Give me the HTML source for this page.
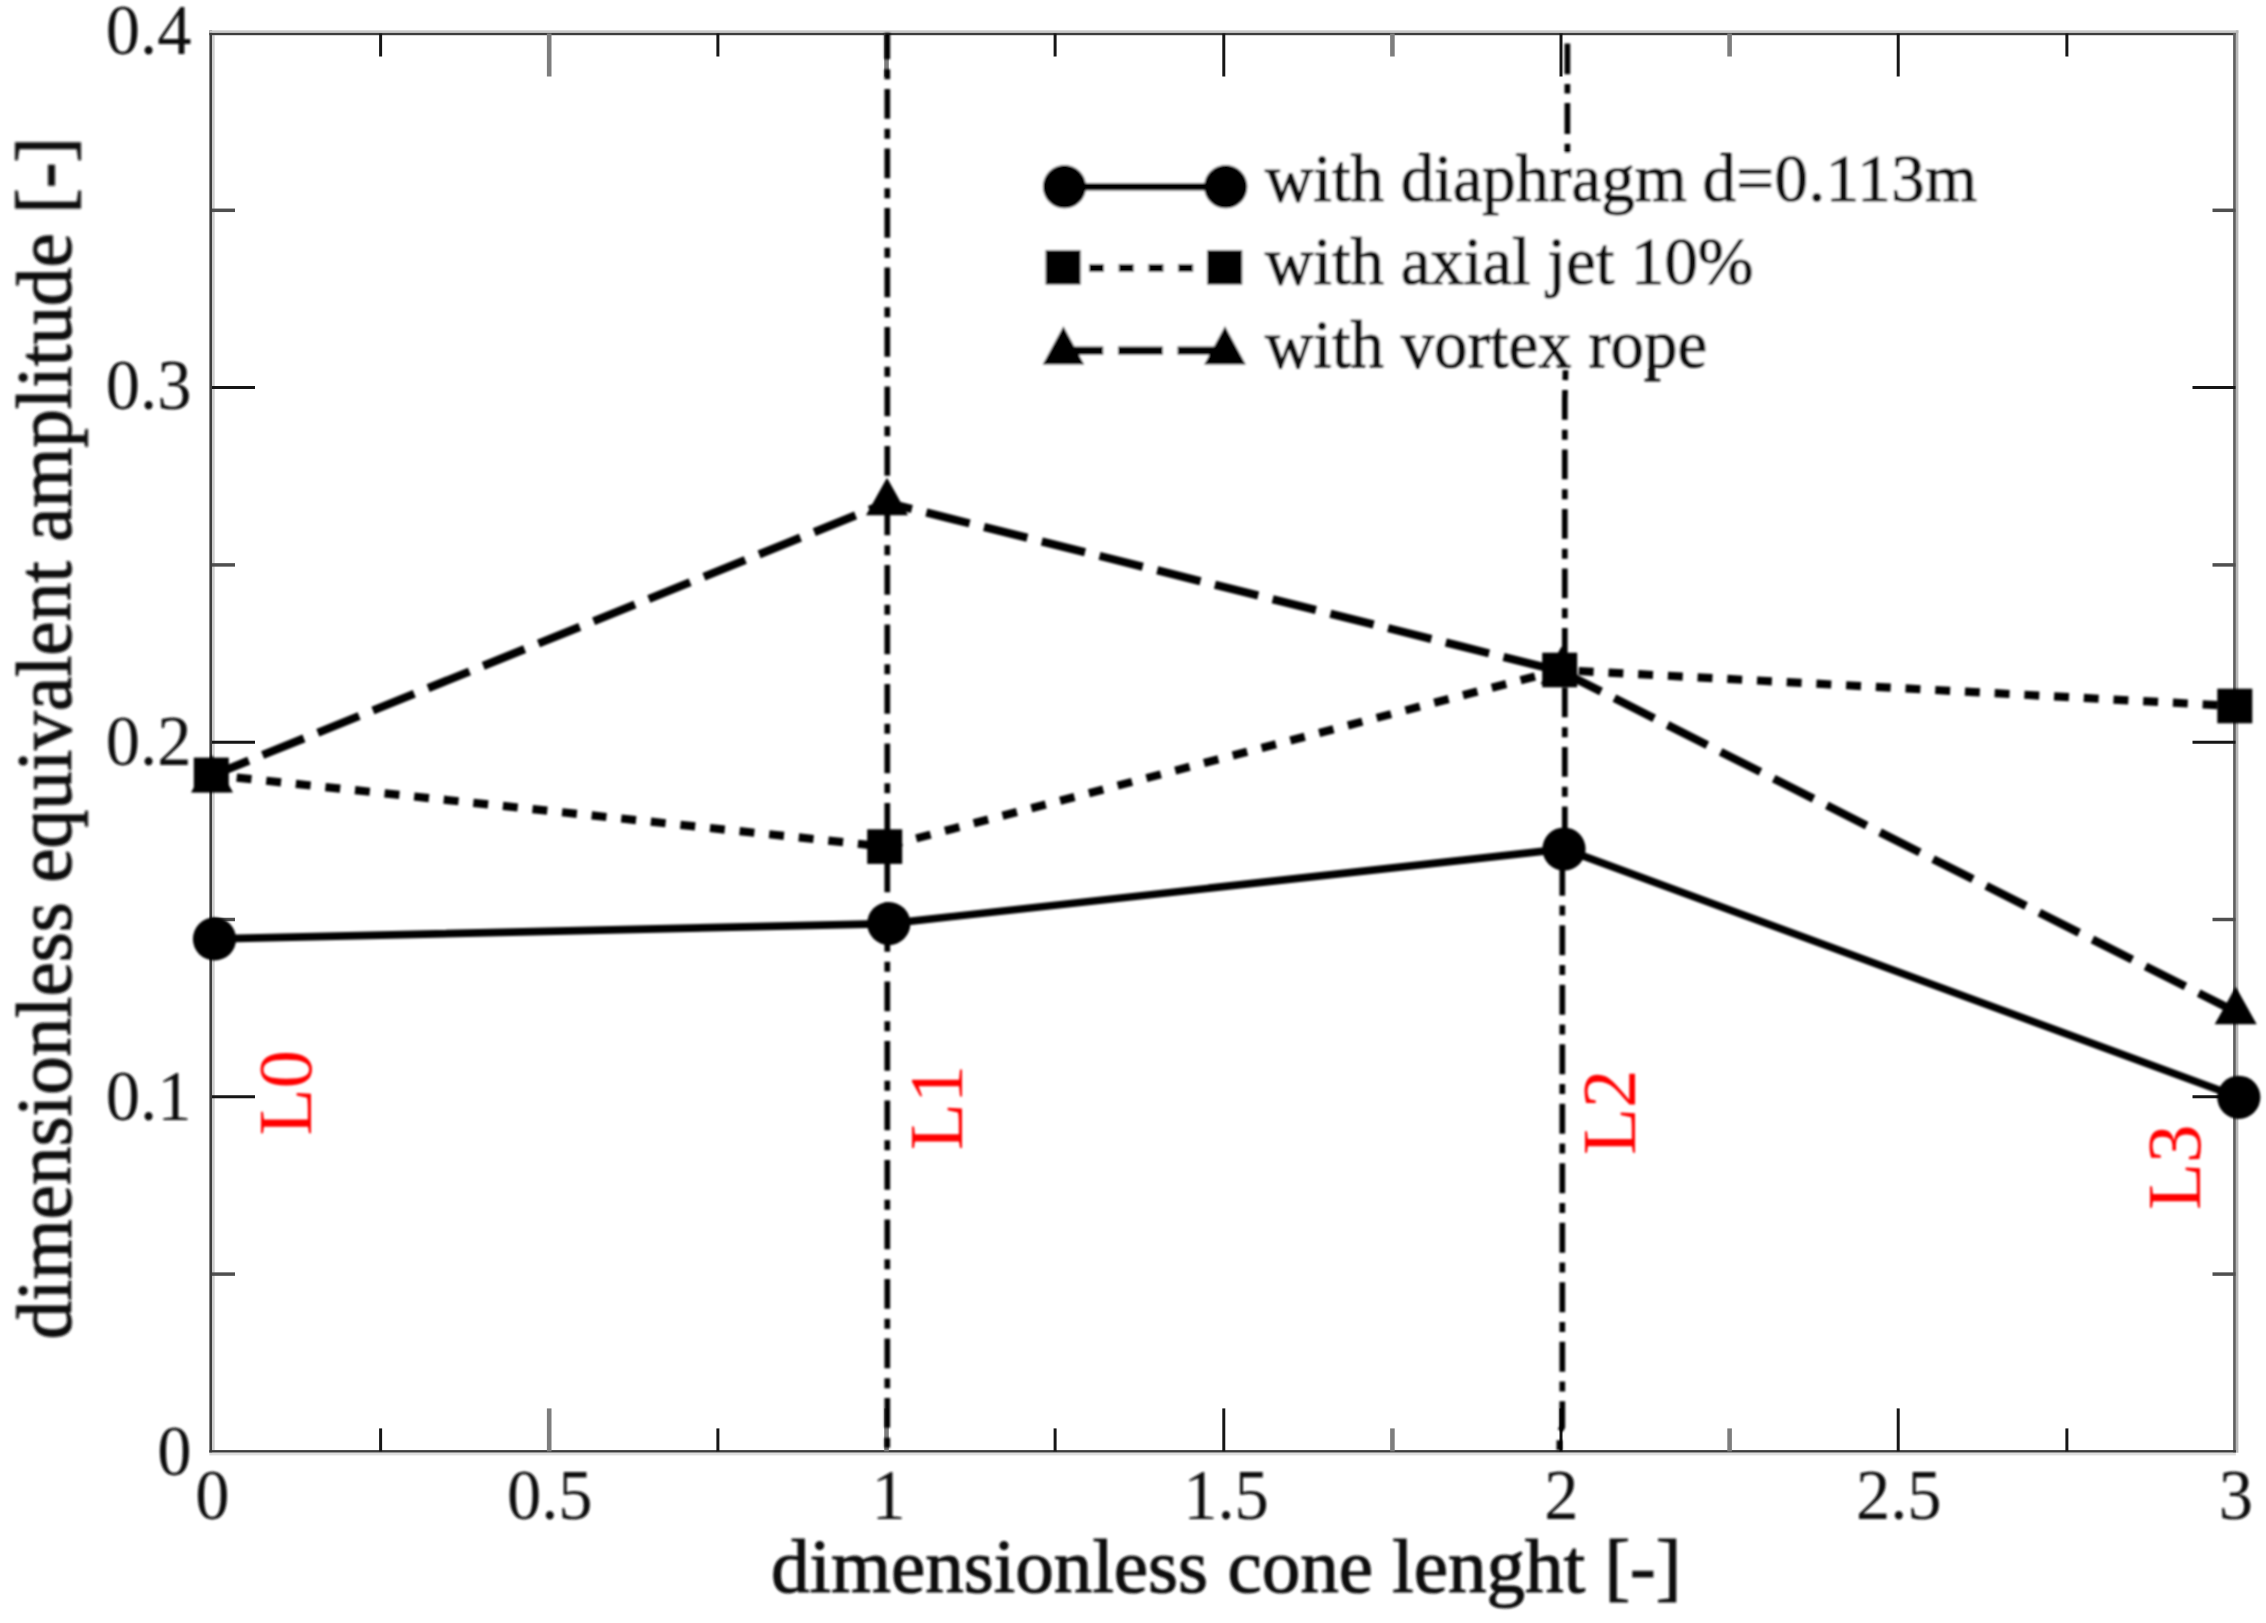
<!DOCTYPE html>
<html lang="en"><head><meta charset="utf-8"><title>dimensionless equivalent amplitude vs cone lenght</title>
<style>html,body{margin:0;padding:0;background:#fff}body{width:2266px;height:1623px;overflow:hidden}svg{display:block}text{font-family:"Liberation Serif",serif;fill:#111}</style>
</head><body>
<svg width="2266" height="1623" viewBox="0 0 2266 1623">
<defs><filter id="soft" x="-2%" y="-2%" width="104%" height="104%"><feGaussianBlur stdDeviation="1.0"/></filter>
<filter id="soft2" x="-2%" y="-2%" width="104%" height="104%"><feGaussianBlur stdDeviation="0.45"/></filter>
<filter id="soft3" x="-2%" y="-2%" width="104%" height="104%"><feGaussianBlur stdDeviation="0.3"/></filter></defs>
<rect width="2266" height="1623" fill="#fff"/>
<g id="frame" filter="url(#soft3)">
<rect x="209.4" y="30.3" width="2.7" height="1422.4" fill="#3c3c3c"/>
<rect x="212.1" y="35.2" width="2.6" height="1415" fill="#cdcdcd"/>
<rect x="209.4" y="30.3" width="2029" height="2.6" fill="#c8c8c8"/>
<rect x="209.4" y="32.9" width="2026.5" height="2.3" fill="#3c3c3c"/>
<rect x="2233.1" y="32.9" width="2.8" height="1419.8" fill="#606060"/>
<rect x="2235.9" y="30.3" width="2.5" height="1422.4" fill="#b8b8b8"/>
<rect x="209.4" y="1450.1" width="2026.5" height="2.6" fill="#3c3c3c"/>
<rect x="209.4" y="1452.7" width="2026.5" height="2.7" fill="#dedede"/>
</g>
<g id="ticks" filter="url(#soft2)">
<line x1="380.6" y1="1451.4" x2="380.6" y2="1428.4" stroke="#161616" stroke-width="3.0"/>
<line x1="380.6" y1="33.5" x2="380.6" y2="56.5" stroke="#161616" stroke-width="3.0"/>
<line x1="549.2" y1="1451.4" x2="549.2" y2="1408.4" stroke="#7d7d7d" stroke-width="4.6"/>
<line x1="549.2" y1="33.5" x2="549.2" y2="76.5" stroke="#7d7d7d" stroke-width="4.6"/>
<line x1="717.9" y1="1451.4" x2="717.9" y2="1428.4" stroke="#161616" stroke-width="3.0"/>
<line x1="717.9" y1="33.5" x2="717.9" y2="56.5" stroke="#161616" stroke-width="3.0"/>
<line x1="886.5" y1="1451.4" x2="886.5" y2="1408.4" stroke="#7d7d7d" stroke-width="4.6"/>
<line x1="886.5" y1="33.5" x2="886.5" y2="76.5" stroke="#7d7d7d" stroke-width="4.6"/>
<line x1="1055.1" y1="1451.4" x2="1055.1" y2="1428.4" stroke="#161616" stroke-width="3.0"/>
<line x1="1055.1" y1="33.5" x2="1055.1" y2="56.5" stroke="#161616" stroke-width="3.0"/>
<line x1="1223.8" y1="1451.4" x2="1223.8" y2="1408.4" stroke="#161616" stroke-width="3.0"/>
<line x1="1223.8" y1="33.5" x2="1223.8" y2="76.5" stroke="#161616" stroke-width="3.0"/>
<line x1="1392.4" y1="1451.4" x2="1392.4" y2="1428.4" stroke="#7d7d7d" stroke-width="4.6"/>
<line x1="1392.4" y1="33.5" x2="1392.4" y2="56.5" stroke="#7d7d7d" stroke-width="4.6"/>
<line x1="1561.0" y1="1451.4" x2="1561.0" y2="1408.4" stroke="#161616" stroke-width="3.0"/>
<line x1="1561.0" y1="33.5" x2="1561.0" y2="76.5" stroke="#161616" stroke-width="3.0"/>
<line x1="1729.6" y1="1451.4" x2="1729.6" y2="1428.4" stroke="#7d7d7d" stroke-width="4.6"/>
<line x1="1729.6" y1="33.5" x2="1729.6" y2="56.5" stroke="#7d7d7d" stroke-width="4.6"/>
<line x1="1898.2" y1="1451.4" x2="1898.2" y2="1408.4" stroke="#161616" stroke-width="3.0"/>
<line x1="1898.2" y1="33.5" x2="1898.2" y2="76.5" stroke="#161616" stroke-width="3.0"/>
<line x1="2066.9" y1="1451.4" x2="2066.9" y2="1428.4" stroke="#161616" stroke-width="3.0"/>
<line x1="2066.9" y1="33.5" x2="2066.9" y2="56.5" stroke="#161616" stroke-width="3.0"/>
<line x1="212.0" y1="1274.1" x2="235.0" y2="1274.1" stroke="#505050" stroke-width="3.5"/>
<line x1="2235.5" y1="1274.1" x2="2212.5" y2="1274.1" stroke="#505050" stroke-width="3.5"/>
<line x1="212.0" y1="1096.8" x2="255.0" y2="1096.8" stroke="#161616" stroke-width="3.0"/>
<line x1="2235.5" y1="1096.8" x2="2192.5" y2="1096.8" stroke="#161616" stroke-width="3.0"/>
<line x1="212.0" y1="919.5" x2="235.0" y2="919.5" stroke="#505050" stroke-width="3.5"/>
<line x1="2235.5" y1="919.5" x2="2212.5" y2="919.5" stroke="#505050" stroke-width="3.5"/>
<line x1="212.0" y1="742.2" x2="255.0" y2="742.2" stroke="#161616" stroke-width="3.0"/>
<line x1="2235.5" y1="742.2" x2="2192.5" y2="742.2" stroke="#161616" stroke-width="3.0"/>
<line x1="212.0" y1="564.9" x2="235.0" y2="564.9" stroke="#505050" stroke-width="3.5"/>
<line x1="2235.5" y1="564.9" x2="2212.5" y2="564.9" stroke="#505050" stroke-width="3.5"/>
<line x1="212.0" y1="387.6" x2="255.0" y2="387.6" stroke="#161616" stroke-width="3.0"/>
<line x1="2235.5" y1="387.6" x2="2192.5" y2="387.6" stroke="#161616" stroke-width="3.0"/>
<line x1="212.0" y1="210.3" x2="235.0" y2="210.3" stroke="#505050" stroke-width="3.5"/>
<line x1="2235.5" y1="210.3" x2="2212.5" y2="210.3" stroke="#505050" stroke-width="3.5"/>
</g>
<g filter="url(#soft)">
<g id="reflines" stroke="#000" stroke-width="5.7" fill="none">
<line x1="887.3" y1="1451" x2="887.3" y2="33" stroke-dasharray="29.8 9.9 9.9 9.9" stroke-dashoffset="36.35"/>
<polyline points="1559.4,1451 1559.4,1432 1562.3,1427 1562.3,862 1564.8,848 1564.8,400 1565.6,367" stroke-dasharray="29.8 9.9 9.9 9.9" stroke-dashoffset="38.85"/>
<line x1="1567.4" y1="43.4" x2="1567.4" y2="153" stroke-dasharray="30.8 9.8 9.4 9.7"/>
</g>
<g id="series" fill="none" stroke="#000" stroke-width="8.2" stroke-linejoin="miter">
<polyline points="212.0,775.5 887.0,502.7 1561.5,671.5 2235.7,1011.8" stroke-dasharray="44.6 14.9" stroke-dashoffset="4.9"/>
<polyline points="211.3,774.9 884.7,846.6 1559.7,670.0 2234.8,706.0" stroke-dasharray="14.9 14.85" stroke-dashoffset="4.25"/>
<polyline points="214.5,938.9 888.8,923.6 1564.0,849.0 2238.8,1097.3" stroke-width="7.6"/>
</g>
<g id="markers" fill="#000">
<polygon points="212.0,755.0 233.0,792.5 191.0,792.5"/>
<polygon points="887.0,477.7 908.0,515.2 866.0,515.2"/>
<polygon points="1561.5,646.5 1582.5,684.0 1540.5,684.0"/>
<polygon points="2235.7,986.8 2256.7,1024.3 2214.7,1024.3"/>
<rect x="193.8" y="757.6" width="35" height="34.6"/>
<rect x="867.2" y="829.3" width="35" height="34.6"/>
<rect x="1542.2" y="652.7" width="35" height="34.6"/>
<rect x="2217.3" y="688.7" width="35" height="34.6"/>
<circle cx="214.5" cy="938.9" r="21.6"/>
<circle cx="888.8" cy="923.6" r="21.6"/>
<circle cx="1564.0" cy="849.0" r="21.6"/>
<circle cx="2238.8" cy="1097.3" r="21.6"/>
</g>
<g id="legend">
<rect x="1032" y="153" width="962" height="214" fill="#fff"/>
<g fill="none" stroke="#000" stroke-width="8.2">
<line x1="1064.5" y1="186.7" x2="1225.7" y2="186.7" stroke-width="7.6"/>
<line x1="1063.5" y1="268.0" x2="1224.7" y2="268.0" stroke-dasharray="14.9 14.85" stroke-dashoffset="4.25"/>
<line x1="1063.5" y1="350.6" x2="1225" y2="350.6" stroke-dasharray="44.6 14.9" stroke-dashoffset="4.9"/>
</g><g fill="#000">
<circle cx="1064.5" cy="186.7" r="21.6"/><circle cx="1225.7" cy="186.7" r="21.6"/>
<rect x="1045.6" y="250.2" width="35" height="34.4"/><rect x="1207.2" y="250.2" width="35" height="34.4"/>
<polygon points="1063.4,326.3 1084.2,364.5 1042.7,364.5"/>
<polygon points="1225.0,326.3 1245.8,364.5 1204.2,364.5"/>
</g>
<g font-size="66.9" stroke="#111" stroke-width="1.1">
<text x="1265" y="201.2">with diaphragm<tspan dx="-1.5" letter-spacing="0.5"> d=0.113m</tspan></text>
<text x="1265" y="284.4">with axial jet 10%</text>
<text x="1265" y="366.7">with vortex rope</text>
</g></g>
<g id="xticklabels" font-size="72.7" text-anchor="middle">
<text transform="translate(212.5,1519.3) scale(0.943,1)">0</text>
<text transform="translate(549.8,1519.3) scale(0.943,1)">0.5</text>
<text transform="translate(888.7,1519.3) scale(0.943,1)">1</text>
<text transform="translate(1226.0,1519.3) scale(0.943,1)">1.5</text>
<text transform="translate(1561.5,1519.3) scale(0.943,1)">2</text>
<text transform="translate(1898.8,1519.3) scale(0.943,1)">2.5</text>
<text transform="translate(2236.0,1519.3) scale(0.943,1)">3</text>
</g>
<g id="yticklabels" font-size="72.7" text-anchor="end">
<text transform="translate(191.5,1474.6) scale(0.943,1)">0</text>
<text transform="translate(191.5,1120.0) scale(0.943,1)">0.1</text>
<text transform="translate(191.5,764.7) scale(0.943,1)">0.2</text>
<text transform="translate(191.5,409.1) scale(0.943,1)">0.3</text>
<text transform="translate(191.5,54.3) scale(0.943,1)">0.4</text>
</g>
<text id="xlabel" stroke="#111" stroke-width="1.1" x="771" y="1592.3" font-size="77.15">dimensionless cone lenght [-]</text>
<text id="ylabel" stroke="#111" stroke-width="1.1" transform="translate(70.5,1339.4) rotate(-90)" font-size="77.2">dimensionless equivalent amplitude [-]</text>
<g id="stations" font-size="77" style="fill:#ff0000">
<text transform="translate(310.5,1135.5) rotate(-90)" style="fill:#ff0000">L0</text>
<text transform="translate(961.5,1150.3) rotate(-90)" style="fill:#ff0000">L1</text>
<text transform="translate(1635,1155) rotate(-90)" style="fill:#ff0000">L2</text>
<text transform="translate(2200,1210) rotate(-90)" style="fill:#ff0000">L3</text>
</g>
</g>
</svg></body></html>
